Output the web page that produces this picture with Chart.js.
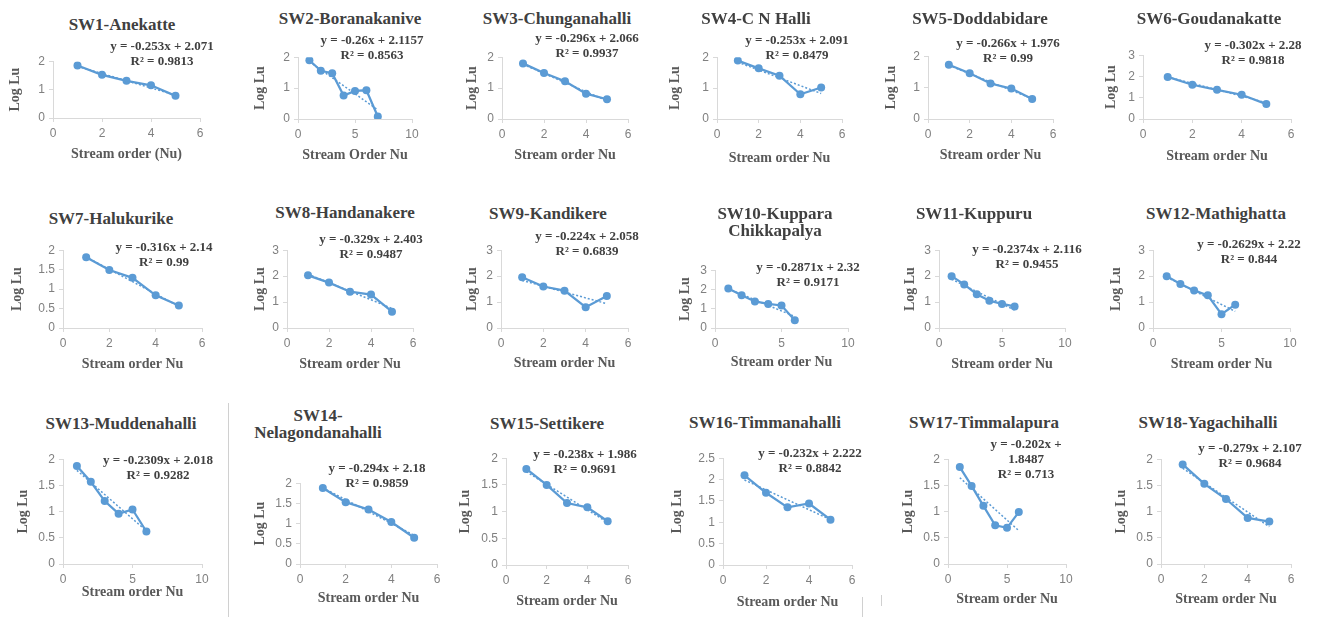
<!DOCTYPE html>
<html>
<head>
<meta charset="utf-8">
<title>Log Lu vs Stream order</title>
<script src="https://cdn.jsdelivr.net/npm/chart.js@4.4.1/dist/chart.umd.min.js"></script>
<style>
    body { margin: 0; width: 1318px; height: 617px; background: #fff; position: relative; overflow: hidden; font-family: 'Liberation Serif', 'Times New Roman', serif; }
    .caixa { position: absolute; }
    .titulo { position: absolute; transform: translateX(-50%); white-space: nowrap; text-align: center; font-weight: bold; font-size: 17px; line-height: 17px; color: #404040; }
    .equacao { position: absolute; transform: translateX(-50%); white-space: nowrap; text-align: center; font-weight: bold; font-size: 13px; line-height: 15px; color: #404040; }
    .linha { position: absolute; width: 1px; background: #d0d0d0; }
</style>
</head>
<body>
<script>
// --- Dados ---
const nomes = [
    'SW1-Anekatte', 'SW2-Boranakanive', 'SW3-Chunganahalli', 'SW4-C N Halli', 'SW5-Doddabidare', 'SW6-Goudanakatte',
    'SW7-Halukurike', 'SW8-Handanakere', 'SW9-Kandikere', 'SW10-Kuppara\nChikkapalya', 'SW11-Kuppuru', 'SW12-Mathighatta',
    'SW13-Muddenahalli', 'SW14-\nNelagondanahalli', 'SW15-Settikere', 'SW16-Timmanahalli', 'SW17-Timmalapura', 'SW18-Yagachihalli'
];

const titulosX = [
    'Stream order (Nu)', 'Stream Order Nu', 'Stream order Nu', 'Stream order Nu', 'Stream order Nu', 'Stream order Nu',
    'Stream order Nu', 'Stream order Nu', 'Stream order Nu', 'Stream order Nu', 'Stream order Nu', 'Stream order Nu',
    'Stream order Nu', 'Stream order Nu', 'Stream order Nu', 'Stream order Nu', 'Stream order Nu', 'Stream order Nu'
];

const ordem5 = [1, 2, 3, 4, 5];
const ordem6 = [1, 2, 3, 4, 5, 6];
const ordem7 = [1, 2, 3, 4, 5, 6, 7];

const logLuSW1 = [1.85, 1.52, 1.31, 1.15, 0.78];
const logLuSW2 = [1.9, 1.56, 1.48, 0.76, 0.91, 0.93, 0.08];
const logLuSW3 = [1.8, 1.49, 1.22, 0.82, 0.64];
const logLuSW4 = [1.89, 1.64, 1.4, 0.8, 1.02];
const logLuSW5 = [1.73, 1.46, 1.13, 0.97, 0.64];
const logLuSW6 = [1.98, 1.61, 1.37, 1.14, 0.7];
const logLuSW7 = [1.82, 1.49, 1.29, 0.84, 0.58];
const logLuSW8 = [2.03, 1.75, 1.4, 1.29, 0.63];
const logLuSW9 = [1.96, 1.6, 1.44, 0.8, 1.23];
const logLuSW10 = [2.05, 1.7, 1.38, 1.25, 1.17, 0.4];
const logLuSW11 = [2.0, 1.68, 1.3, 1.05, 0.93, 0.83];
const logLuSW12 = [2.0, 1.7, 1.45, 1.26, 0.53, 0.9];
const logLuSW13 = [1.87, 1.57, 1.2, 0.96, 1.04, 0.62];
const logLuSW14 = [1.88, 1.53, 1.35, 1.04, 0.65];
const logLuSW15 = [1.8, 1.5, 1.16, 1.08, 0.82];
const logLuSW16 = [2.1, 1.69, 1.35, 1.44, 1.06];
const logLuSW17 = [1.85, 1.49, 1.11, 0.74, 0.69, 0.99];
const logLuSW18 = [1.9, 1.53, 1.24, 0.88, 0.81];

const ordens = [ordem5, ordem7, ordem5, ordem5, ordem5, ordem5, ordem5, ordem5, ordem5, ordem6, ordem6, ordem6, ordem6, ordem5, ordem5, ordem5, ordem6, ordem5];
const valores = [logLuSW1, logLuSW2, logLuSW3, logLuSW4, logLuSW5, logLuSW6, logLuSW7, logLuSW8, logLuSW9,
    logLuSW10, logLuSW11, logLuSW12, logLuSW13, logLuSW14, logLuSW15, logLuSW16, logLuSW17, logLuSW18];

// linha de tendência (equação mostrada em cada gráfico)
const inclinacoes = [-0.253, -0.26, -0.296, -0.253, -0.266, -0.302, -0.316, -0.329, -0.224, -0.2871, -0.2374, -0.2629, -0.2309, -0.294, -0.238, -0.232, -0.202, -0.279];
const interceptos = [2.071, 2.1157, 2.066, 2.091, 1.976, 2.28, 2.14, 2.403, 2.058, 2.32, 2.116, 2.22, 2.018, 2.18, 1.986, 2.222, 1.8487, 2.107];
const equacoes = [
    'y = -0.253x + 2.071', 'y = -0.26x + 2.1157', 'y = -0.296x + 2.066', 'y = -0.253x + 2.091', 'y = -0.266x + 1.976', 'y = -0.302x + 2.28',
    'y = -0.316x + 2.14', 'y = -0.329x + 2.403', 'y = -0.224x + 2.058', 'y = -0.2871x + 2.32', 'y = -0.2374x + 2.116', 'y = -0.2629x + 2.22',
    'y = -0.2309x + 2.018', 'y = -0.294x + 2.18', 'y = -0.238x + 1.986', 'y = -0.232x + 2.222', 'y = -0.202x +\n1.8487', 'y = -0.279x + 2.107'
];
const r2 = ['0.9813', '0.8563', '0.9937', '0.8479', '0.99', '0.9818', '0.99', '0.9487', '0.6839', '0.9171', '0.9455', '0.844',
    '0.9282', '0.9859', '0.9691', '0.8842', '0.713', '0.9684'];

// eixos
const maxX = [6, 10, 6, 6, 6, 6, 6, 6, 6, 10, 10, 10, 10, 6, 6, 6, 10, 6];
const passoX = [2, 5, 2, 2, 2, 2, 2, 2, 2, 5, 5, 5, 5, 2, 2, 2, 5, 2];
const maxY = [2, 2, 2, 2, 2, 3, 2, 3, 3, 3, 3, 3, 2, 2, 2, 2.5, 2, 2];
const passoY = [1, 1, 1, 1, 1, 1, 0.5, 1, 1, 1, 1, 1, 0.5, 0.5, 0.5, 0.5, 0.5, 0.5];

// --- Posições na página (área do gráfico, títulos, equação) ---
const posicoes = [
    { area: [53, 58, 200, 118], gy: 38, gx: 37, t: [122, 24], e: [162, 45] },
    { area: [298, 54, 412, 119], gy: 38, gx: 37, t: [350, 18], e: [372, 39] },
    { area: [502, 54, 628, 119], gy: 30, gx: 37, t: [557, 18], e: [587, 37] },
    { area: [717, 54, 842, 119], gy: 42, gx: 40, t: [756, 18], e: [797, 39] },
    { area: [928, 53, 1053, 119], gy: 37, gx: 37, t: [980, 18], e: [1008, 42] },
    { area: [1143, 52, 1291, 119], gy: 32, gx: 38, t: [1209, 18], e: [1253, 44] },
    { area: [63, 247, 202, 328], gy: 46, gx: 37, t: [111, 218], e: [164, 246] },
    { area: [287, 247, 413, 328], gy: 27, gx: 37, t: [345, 212], e: [371, 238] },
    { area: [501, 247, 628, 328], gy: 29, gx: 36, t: [548, 213], e: [587, 235] },
    { area: [715, 267, 848, 328], gy: 30, gx: 35, t: [775, 213], e: [808, 266] },
    { area: [939, 247, 1065, 328], gy: 29, gx: 37, t: [974, 213], e: [1027, 248] },
    { area: [1153, 247, 1290, 328], gy: 37, gx: 37, t: [1216, 213], e: [1249, 243] },
    { area: [63, 456, 202, 564], gy: 40, gx: 29, t: [121, 423], e: [158, 459] },
    { area: [300, 480, 437, 564], gy: 40, gx: 35, t: [318, 415], e: [377, 467] },
    { area: [506, 455, 628, 565], gy: 41, gx: 37, t: [547, 423], e: [585, 453] },
    { area: [723, 455, 852, 565], gy: 46, gx: 38, t: [765, 422], e: [810, 452] },
    { area: [948, 456, 1066, 564], gy: 40, gx: 36, t: [984, 422], e: [1026, 443] },
    { area: [1161, 456, 1291, 564], gy: 40, gx: 36, t: [1208, 422], e: [1250, 447] }
];

const corSerie = '#5B9BD5';
const corEixo = '#d9d9d9';
const corTick = '#808080';
const corTituloEixo = '#595959';

const adicionarTexto = (classe, texto, cx, cy, altLinha) => {
    const el = document.createElement('div');
    el.className = classe;
    el.style.left = cx + 'px';
    el.style.top = (cy - altLinha / 2) + 'px';
    el.innerHTML = texto.split('\n').join('<br>');
    document.body.appendChild(el);
};

posicoes.forEach((pos, i) => {
    const [x0, y0, x1, y1] = pos.area;
    const larguraY = pos.gy + 8;
    const alturaX = pos.gx + 8;
    const padTopo = 8, padDireita = 12;
    const w = (x1 - x0) + larguraY + padDireita;
    const h = (y1 - y0) + padTopo + alturaX;

    const caixa = document.createElement('div');
    caixa.className = 'caixa';
    caixa.style.left = (x0 - larguraY) + 'px';
    caixa.style.top = (y0 - padTopo) + 'px';
    caixa.style.width = w + 'px';
    caixa.style.height = h + 'px';
    const canvas = document.createElement('canvas');
    canvas.width = w;
    canvas.height = h;
    caixa.appendChild(canvas);
    document.body.appendChild(caixa);

    const xs = ordens[i];
    const pontos = xs.map((x, k) => ({ x: x, y: valores[i][k] }));
    const xIni = xs[0], xFim = xs[xs.length - 1];
    const tendencia = [
        { x: xIni, y: inclinacoes[i] * xIni + interceptos[i] },
        { x: xFim, y: inclinacoes[i] * xFim + interceptos[i] }
    ];

    const fonteTick = { family: "'Liberation Sans', Arial, sans-serif", size: 12 };
    const fonteTitulo = { family: "'Liberation Serif', 'Times New Roman', serif", size: 14, weight: 'bold' };

    new Chart(canvas.getContext('2d'), {
        type: 'line',
        data: {
            datasets: [
                {
                    data: tendencia,
                    borderColor: corSerie,
                    borderWidth: 1.5,
                    borderDash: [2, 2],
                    pointRadius: 0,
                    fill: false
                },
                {
                    data: pontos,
                    borderColor: corSerie,
                    backgroundColor: corSerie,
                    borderWidth: 2.25,
                    pointRadius: 4,
                    pointBorderWidth: 0,
                    tension: 0,
                    fill: false
                }
            ]
        },
        options: {
            responsive: false,
            animation: false,
            devicePixelRatio: 1,
            layout: { padding: { top: padTopo, right: padDireita, left: 0, bottom: 0 } },
            plugins: { legend: { display: false }, tooltip: { enabled: false }, title: { display: false } },
            scales: {
                x: {
                    type: 'linear',
                    min: 0,
                    max: maxX[i],
                    ticks: { stepSize: passoX[i], color: corTick, font: fonteTick, padding: 4 },
                    grid: { display: true, drawOnChartArea: false, drawTicks: true, tickLength: 4, color: corEixo },
                    border: { display: true, color: corEixo },
                    title: { display: true, text: titulosX[i], color: corTituloEixo, font: fonteTitulo, padding: 0 },
                    afterFit: (s) => { s.height = alturaX; }
                },
                y: {
                    min: 0,
                    max: maxY[i],
                    ticks: { stepSize: passoY[i], color: corTick, font: fonteTick, padding: 4, callback: (v) => String(v) },
                    grid: { display: true, drawOnChartArea: false, drawTicks: true, tickLength: 4, color: corEixo },
                    border: { display: true, color: corEixo },
                    title: { display: true, text: 'Log Lu', color: corTituloEixo, font: fonteTitulo, padding: 0 },
                    afterFit: (s) => { s.width = larguraY; }
                }
            }
        }
    });

    adicionarTexto('titulo', nomes[i], pos.t[0], pos.t[1], 17);
    adicionarTexto('equacao', equacoes[i] + '\nR² = ' + r2[i], pos.e[0], pos.e[1], 15);
});

// linhas finas de separação vistas na figura
[[228, 403, 214], [862, 597, 20], [881, 595, 11]].forEach(([x, y, alt]) => {
    const l = document.createElement('div');
    l.className = 'linha';
    l.style.left = x + 'px';
    l.style.top = y + 'px';
    l.style.height = alt + 'px';
    document.body.appendChild(l);
});
</script>
</body>
</html>
